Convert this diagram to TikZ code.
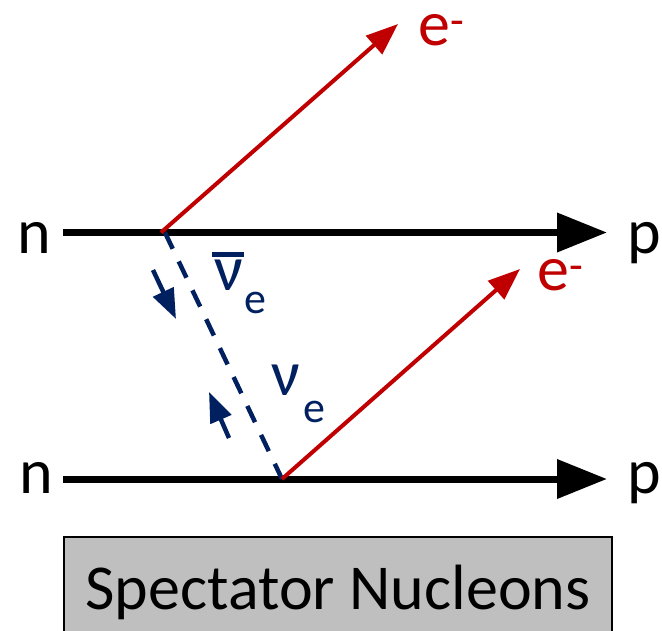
\documentclass[tikz,border=0pt]{standalone}
\usepackage{fontspec}
\setmainfont{Carlito}
\usetikzlibrary{arrows.meta}
\definecolor{ered}{HTML}{C00000}
\definecolor{nunavy}{HTML}{002060}
\definecolor{boxgray}{HTML}{BFBFBF}
\newcommand\bignu{\fontsize{64}{64}\selectfont}
\newcommand\smalle{\fontsize{44}{44}\selectfont}
\newcommand\barnu{\makebox[0pt][l]{\hspace*{-2pt}\raisebox{33pt}{\rule{32pt}{5pt}}}ν}
\begin{document}
\begin{tikzpicture}[x=1pt,y=-1pt,
  lbl/.style={inner sep=0pt,anchor=base west,font=\bignu},
  nucline/.style={line width=7pt,-{Triangle[length=50pt,width=38pt]}},
  elec/.style={ered,line width=4pt,-{Triangle[length=32pt,width=24pt]}},
  nudash/.style={nunavy,line width=4.5pt,dash pattern=on 18pt off 14pt},
  nuarrow/.style={nunavy,line width=4.5pt,-{Triangle[length=30pt,width=22pt]}},
  specbox/.style={draw=black,line width=1.5pt,fill=boxgray,minimum width=548pt,minimum height=118pt,anchor=north,text height=41pt,text depth=13pt,font=\bignu}]
\useasboundingbox (0,0) rectangle (662,630);
\begin{scope}
\clip (0,0) rectangle (662,630);
\node[specbox] (spec) at (338,536) {Spectator Nucleons};
\end{scope}
% nucleon lines
\node[lbl] (n1) at (17,253) {n};
\node[lbl,text height=31pt,text depth=10pt] (p1) at (627,253) {p};
\node[lbl] (n2) at (19,493) {n};
\node[lbl,text height=31pt,text depth=10pt] (p2) at (627,493) {p};
\coordinate (a1) at (63,232.5);
\coordinate (b1) at (607,232.5);
\coordinate (a2) at (63,479);
\coordinate (b2) at (607,479);
\coordinate (v1) at (165,232.5);
\coordinate (v2) at (282,479);
\draw[nucline] (a1) -- (b1);
\draw[nucline] (a2) -- (b2);
% neutrino exchange
\draw[nudash] (v1) -- (v2);
\coordinate (t1) at (153,270);
\coordinate (h1) at (176,319);
\coordinate (t2) at (229,438);
\coordinate (h2) at (209,392);
\draw[nuarrow] (t1) -- (h1);
\draw[nuarrow] (t2) -- (h2);
\node[lbl,nunavy] (nubar) at (214,290) {\barnu};
\node[lbl,nunavy,font=\smalle] (nubare) at (244,313) {e};
\node[lbl,nunavy] (nu) at (271,395) {ν};
\node[lbl,nunavy,font=\smalle] (nue) at (303,422) {e};
% electrons
\coordinate (e1t) at (398,24);
\coordinate (e2t) at (520,269);
\draw[elec] (161,232.5) -- (e1t);
\draw[elec] (v2) -- (e2t);
\node[lbl,ered,text height=36pt] (e1) at (418,45) {e\textsuperscript{-}};
\node[lbl,ered,text height=36pt] (e2) at (537,290) {e\textsuperscript{-}};
\end{tikzpicture}
\end{document}
